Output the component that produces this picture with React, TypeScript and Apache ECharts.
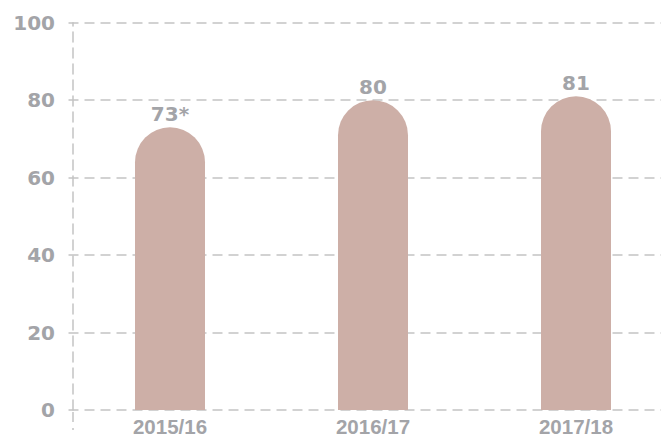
import React, { useEffect, useRef } from "react";
import * as echarts from "echarts";

const categories = ["2015/16", "2016/17", "2017/18"];
const values = [73, 80, 81];
const valueLabels = ["73*", "80", "81"];
const yMin = 0;
const yMax = 100;
const yInterval = 20;

const GRAY = "#a3a4a8";
const GRID = "#c4c4c4";
const BAR = "#cdafa7";
const FONT = "'Liberation Sans', Arial, Helvetica, sans-serif";
const WIDE = "'DejaVu Sans', 'Liberation Sans', sans-serif";

export default function App() {
  const ref = useRef<HTMLDivElement>(null);
  useEffect(() => {
    if (!ref.current) return;
    const chart = echarts.init(ref.current, undefined, { renderer: "svg" });
    chart.setOption({
      animation: false,
      backgroundColor: "#ffffff",
      grid: {
        left: 68.5,
        top: 22.7,
        width: 609,
        height: 387.3,
        containLabel: false,
        outerBoundsMode: "none",
      },
      xAxis: {
        type: "category",
        data: categories,
        axisLine: { show: false },
        axisTick: { show: false },
        axisLabel: {
          color: GRAY,
          fontSize: 20.5,
          fontWeight: "bold",
          fontFamily: FONT,
          margin: 6,
        },
        splitLine: { show: false },
      },
      yAxis: {
        type: "value",
        min: yMin,
        max: yMax,
        interval: yInterval,
        offset: -4.5,
        axisLine: {
          show: true,
          lineStyle: { color: GRID, width: 1.5, type: [10, 6] },
        },
        axisTick: { show: false },
        axisLabel: {
          color: GRAY,
          fontSize: 20,
          fontWeight: "bold",
          fontFamily: WIDE,
          margin: 18,
        },
        splitLine: {
          show: true,
          lineStyle: { color: GRID, width: 1.5, type: [10, 6] },
        },
      },
      graphic: [
        {
          type: "line",
          shape: { x1: 73, y1: 412, x2: 73, y2: 430 },
          style: { stroke: GRID, lineWidth: 1.5, lineDash: [10, 6] },
          silent: true,
        },
      ],
      series: [
        {
          type: "bar",
          data: values,
          barWidth: 70,
          itemStyle: { color: BAR, borderRadius: [35, 35, 0, 0] },
          label: {
            show: true,
            position: "top",
            distance: 3,
            color: GRAY,
            fontSize: 20,
            fontWeight: "bold",
            fontFamily: WIDE,
            formatter: (p: any) => valueLabels[p.dataIndex],
          },
        },
      ],
    });
    return () => chart.dispose();
  }, []);
  return (
    <div
      ref={ref}
      style={{ position: "fixed", left: 0, top: 0, width: 661, height: 441 }}
    />
  );
}
